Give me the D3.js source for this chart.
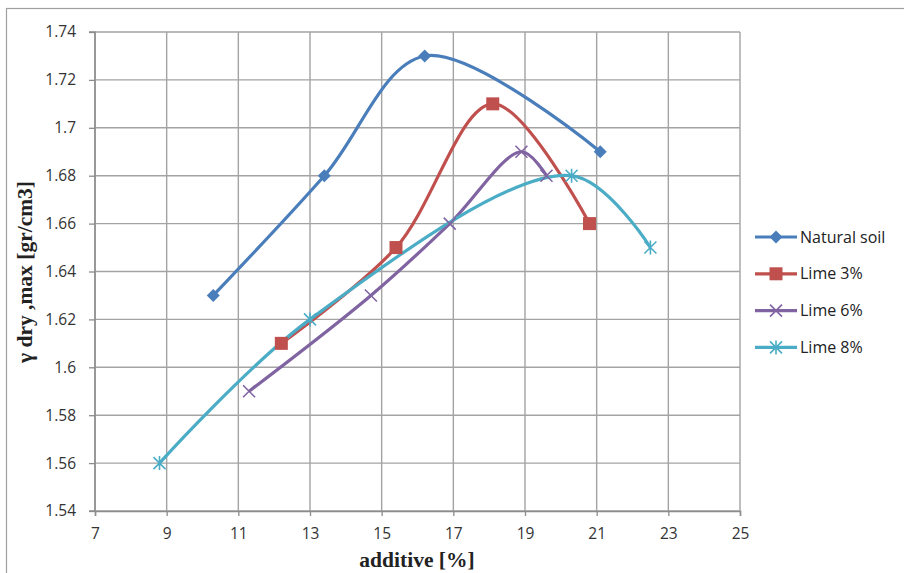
<!DOCTYPE html>
<html><head><meta charset="utf-8">
<script src="https://cdn.jsdelivr.net/npm/d3@7"></script>
<style>body{margin:0;background:#fff}</style>
</head><body>
<svg id="c" width="904" height="573"></svg>
<script>
const seriesNames = ["Natural soil", "Lime 3%", "Lime 6%", "Lime 8%"];
const seriesColors = ["#4A7EBB", "#C0504D", "#8064A2", "#4BACC6"];
const naturalX = [10.3, 13.4, 16.2, 21.1];
const naturalY = [1.63, 1.68, 1.73, 1.69];
const lime3X = [12.2, 15.4, 18.1, 20.8];
const lime3Y = [1.61, 1.65, 1.71, 1.66];
const lime6X = [11.3, 14.7, 16.9, 18.9, 19.6];
const lime6Y = [1.59, 1.63, 1.66, 1.69, 1.68];
const lime8X = [8.8, 13.0, 20.3, 22.5];
const lime8Y = [1.56, 1.62, 1.68, 1.65];
const xTicks = [7, 9, 11, 13, 15, 17, 19, 21, 23, 25];
const yTicks = [1.54, 1.56, 1.58, 1.6, 1.62, 1.64, 1.66, 1.68, 1.7, 1.72, 1.74];

const seriesX = [naturalX, lime3X, lime6X, lime8X];
const seriesY = [naturalY, lime3Y, lime6Y, lime8Y];
const markers = ["diamond", "square", "x", "star"];

const svg = d3.select("#c");
const L = 95, R = 740, T = 32, B = 511;
const x = d3.scaleLinear().domain([7, 25]).range([L, R]);
const y = d3.scaleLinear().domain([1.54, 1.74]).range([B, T]);
const sans = "'Open Sans', 'Liberation Sans', sans-serif";
const serif = "'Liberation Serif', 'Times New Roman', serif";

svg.append("rect").attr("x", 6.5).attr("y", 8.5).attr("width", 904).attr("height", 580)
  .attr("fill", "none").attr("stroke", "#A0A0A0").attr("stroke-width", 1.2);

// grid
const g = svg.append("g");
g.selectAll(".vg").data(xTicks).join("line")
  .attr("x1", d => x(d)).attr("x2", d => x(d)).attr("y1", T).attr("y2", B)
  .attr("stroke", "#A3A3A3").attr("stroke-width", 1.4);
g.selectAll(".hg").data(yTicks).join("line")
  .attr("x1", L).attr("x2", R).attr("y1", d => y(d)).attr("y2", d => y(d))
  .attr("stroke", "#A3A3A3").attr("stroke-width", 1.4);

// axes
const xAxis = d3.axisBottom(x).tickValues(xTicks).tickSize(5).tickPadding(12).tickFormat(d3.format("d"));
const yAxis = d3.axisLeft(y).tickValues(yTicks).tickSize(6).tickPadding(13).tickFormat(d => String(+d.toFixed(2)));
const gx = svg.append("g").attr("transform", `translate(0,${B})`).call(xAxis);
const gy = svg.append("g").attr("transform", `translate(${L},0)`).call(yAxis);
[gx, gy].forEach(a => {
  a.select(".domain").attr("stroke", "#8C8C8C").attr("stroke-width", 1.5);
  a.selectAll(".tick line").attr("stroke", "#8C8C8C").attr("stroke-width", 1.3);
  a.selectAll("text").attr("font-family", sans).attr("font-size", 15.5).attr("fill", "#333");
});
gy.select(".domain").attr("d", `M-6,${B}H0V${T}H-6`);

// titles
svg.append("text").attr("x", 417).attr("y", 567).attr("text-anchor", "middle")
  .attr("font-family", serif).attr("font-weight", "bold")
  .attr("font-size", 21.5).attr("fill", "#222").text("additive [%]");
svg.append("text").attr("transform", `translate(32,272) rotate(-90)`).attr("text-anchor", "middle")
  .attr("font-family", serif).attr("font-weight", "bold")
  .attr("font-size", 21.5).attr("fill", "#222").text("γ dry ,max [gr/cm3]");

function drawMarker(sel, type, color) {
  if (type === "diamond") {
    sel.append("path").attr("d", "M0,-6.5L6.5,0L0,6.5L-6.5,0Z").attr("fill", color);
  } else if (type === "square") {
    sel.append("rect").attr("x", -6.5).attr("y", -6.5).attr("width", 13).attr("height", 13).attr("fill", color);
  } else if (type === "x") {
    sel.append("path").attr("d", "M-6,-6L6,6M-6,6L6,-6").attr("stroke", color).attr("stroke-width", 1.6);
  } else {
    sel.append("path").attr("d", "M-6,-6L6,6M-6,6L6,-6M0,-7V7").attr("stroke", color).attr("stroke-width", 1.6);
  }
}

const line = d3.line().x(d => x(d[0])).y(d => y(d[1])).curve(d3.curveCatmullRom.alpha(0.5));
seriesNames.forEach((name, i) => {
  const pts = seriesX[i].map((v, j) => [v, seriesY[i][j]]);
  svg.append("path").datum(pts).attr("d", line).attr("fill", "none")
    .attr("stroke", seriesColors[i]).attr("stroke-width", 3.2).attr("stroke-linejoin", "round");
});
seriesNames.forEach((name, i) => {
  const pts = seriesX[i].map((v, j) => [v, seriesY[i][j]]);
  pts.forEach(p => {
    const m = svg.append("g").attr("transform", `translate(${x(p[0])},${y(p[1])})`);
    drawMarker(m, markers[i], seriesColors[i]);
  });
});

// legend
const lg = svg.append("g");
seriesNames.forEach((name, i) => {
  const yy = 237 + i * 36.8;
  lg.append("line").attr("x1", 755).attr("x2", 797).attr("y1", yy).attr("y2", yy)
    .attr("stroke", seriesColors[i]).attr("stroke-width", 3.2);
  drawMarker(lg.append("g").attr("transform", `translate(776,${yy})`), markers[i], seriesColors[i]);
  lg.append("text").attr("x", 800).attr("y", yy + 5.5).attr("font-family", sans)
    .attr("font-size", 16).attr("fill", "#222").text(name);
});
</script>
</body></html>
